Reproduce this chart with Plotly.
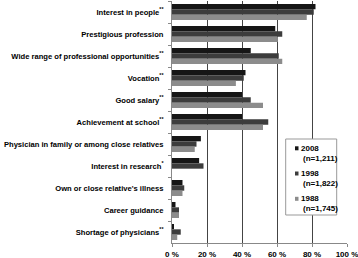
import plotly.graph_objects as go

categories = [
    "Interest in people<sup>**</sup>",
    "Prestigious profession",
    "Wide range of professional opportunities<sup>**</sup>",
    "Vocation<sup>**</sup>",
    "Good salary<sup>**</sup>",
    "Achievement at school<sup>**</sup>",
    "Physician in family or among close relatives",
    "Interest in research<sup>*</sup>",
    "Own or close relative's illness",
    "Career guidance",
    "Shortage of physicians<sup>**</sup>",
]
v2008 = [82, 59, 45, 42, 40, 40, 16.5, 15.5, 6, 2, 1]
v1998 = [81, 63, 61, 41, 45, 55, 14, 18, 7, 4, 5]
v1988 = [77, 60.5, 63, 36.5, 52, 52, 13, 0, 6, 4, 3]
years = ["2008", "1998", "1988"]
sample_sizes = ["(n=1,211)", "(n=1,822)", "(n=1,745)"]
colors = ["#161616", "#3c3c3c", "#8c8c8c"]
x_ticks = [0, 20, 40, 60, 80, 100]
x_labels = ["0 %", "20 %", "40 %", "60 %", "80 %", "100 %"]

W, H = 358, 258
L, R, T, B = 172, 11, 1, 15
PW, PH = W - L - R, H - T - B


def px(x):
    return (x - L) / PW


def py(y):
    return (H - B - y) / PH


FAM = "Liberation Sans, Arial, sans-serif"
FS = 7.6
fig = go.Figure()
for name, vals, col in zip(years, [v2008, v1998, v1988], colors):
    fig.add_trace(go.Bar(y=categories, x=vals, name=name, orientation="h",
                         marker=dict(color=col, line=dict(width=0)), showlegend=False))

# custom legend
shapes = [dict(type="rect", xref="paper", yref="paper", x0=px(285.7), x1=px(336.7),
               y0=py(215), y1=py(139), line=dict(color="#999", width=1), fillcolor="white",
               layer="above")]
annotations = []
entry_y = [148.3, 173.5, 198.8]
for yr, n, col, ey in zip(years, sample_sizes, colors, entry_y):
    shapes.append(dict(type="rect", xref="paper", yref="paper", x0=px(295), x1=px(298.5),
                       y0=py(ey + 2), y1=py(ey - 2), line=dict(width=0), fillcolor=col,
                       layer="above"))
    annotations.append(dict(xref="paper", yref="paper", x=px(299), y=py(ey), text=yr,
                            showarrow=False, xanchor="left", yanchor="middle",
                            font=dict(family=FAM, size=8, color="#000", weight="bold")))
    annotations.append(dict(xref="paper", yref="paper", x=px(300.5), y=py(ey + 10), text=n,
                            showarrow=False, xanchor="left", yanchor="middle",
                            font=dict(family=FAM, size=8, color="#000", weight="bold")))

fig.update_layout(
    width=W, height=H,
    margin=dict(l=L, r=R, t=T, b=B),
    paper_bgcolor="white", plot_bgcolor="white",
    barmode="group", bargap=0.27, bargroupgap=0,
    font=dict(family=FAM, size=FS, color="#000", weight="bold"),
    showlegend=False,
    shapes=shapes, annotations=annotations,
    xaxis=dict(range=[0, 100], tickvals=x_ticks, ticktext=x_labels,
               showgrid=True, gridcolor="#444", gridwidth=1,
               showline=True, linecolor="#888", linewidth=1,
               ticks="outside", ticklen=3, tickcolor="#888",
               zeroline=False, automargin=False, fixedrange=True,
               ticklabeloverflow="allow",
               tickfont=dict(family=FAM, size=8, color="#000", weight="bold")),
    yaxis=dict(autorange="reversed", showline=True, linecolor="#888", linewidth=1,
               ticks="outside", ticklen=3, tickcolor="#888", tickson="boundaries",
               showgrid=False, automargin=False, fixedrange=True, ticklabelstandoff=6,
               ticklabeloverflow="allow",
               tickfont=dict(family=FAM, size=FS, color="#000", weight="bold")),
)
fig.write_html("out.html", config={"displayModeBar": False},
               post_script="document.body.style.margin='0';document.body.style.overflow='hidden';")
